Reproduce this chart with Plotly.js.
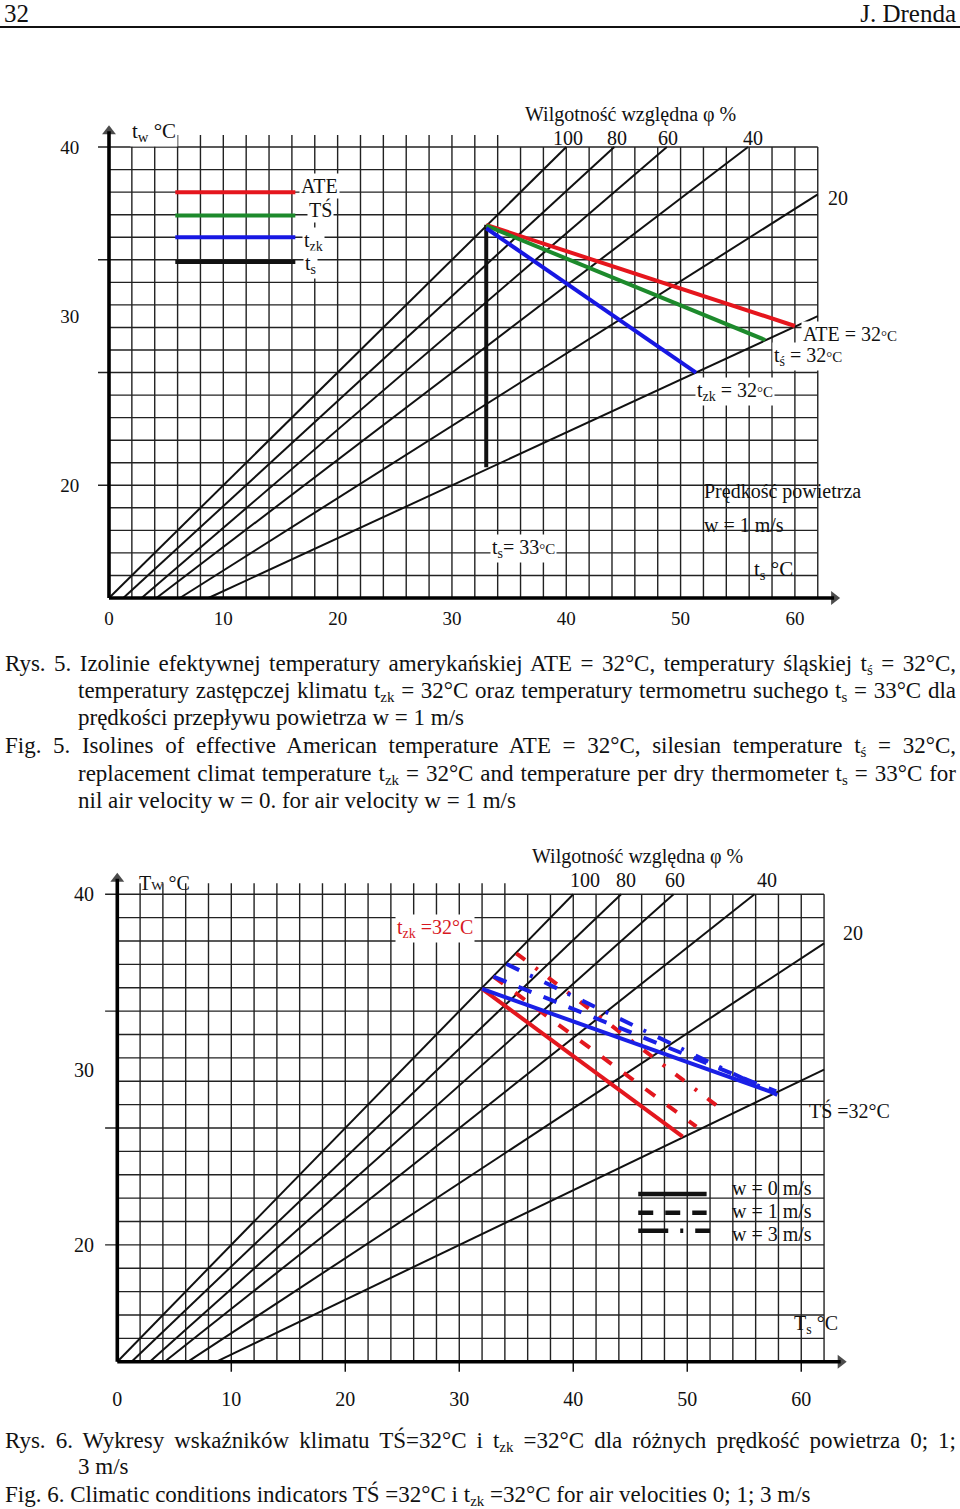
<!DOCTYPE html>
<html>
<head>
<meta charset="utf-8">
<script src="https://cdn.plot.ly/plotly-3.0.1.min.js"></script>
<style>
  html, body { margin: 0; padding: 0; background: #fff; }
  #page { position: relative; width: 960px; height: 1509px; overflow: hidden; background: #fff; }
  #chart { position: absolute; left: 0; top: 0; width: 960px; height: 1509px; }
  .hdr { position: absolute; top: 0; font-family: 'Liberation Serif', serif; font-size: 25px; line-height: 28px; color: #111; }
  .rule { position: absolute; left: 0; top: 26px; width: 960px; height: 2px; background: #111; }
  .cap { position: absolute; font-family: 'Liberation Serif', serif; font-size: 23px; line-height: 27px; color: #111; white-space: normal; }
  .j { text-align: justify; text-align-last: justify; }
  .cap sub { font-size: 15px; line-height: 0; vertical-align: -4px; }
</style>
</head>
<body>
<div id="page">
  <div id="chart"></div>
  <div class="hdr" style="left:4px">32</div>
  <div class="hdr" style="right:4px">J. Drenda</div>
  <div class="rule"></div>

  <div class="cap j" style="top:650px;left:5px;width:951px">Rys. 5. Izolinie efektywnej temperatury amerykańskiej ATE = 32°C, temperatury śląskiej t<sub>ś</sub> = 32°C,</div>
  <div class="cap j" style="top:677px;left:78px;width:878px">temperatury zastępczej klimatu t<sub>zk</sub> = 32°C oraz temperatury termometru suchego t<sub>s</sub> = 33°C dla</div>
  <div class="cap" style="top:704px;left:78px">prędkości przepływu powietrza w = 1 m/s</div>
  <div class="cap j" style="top:732px;left:5px;width:951px">Fig. 5. Isolines of effective American temperature ATE = 32°C, silesian temperature t<sub>ś</sub> = 32°C,</div>
  <div class="cap j" style="top:760px;left:78px;width:878px">replacement climat temperature t<sub>zk</sub> = 32°C and temperature per dry thermometer t<sub>s</sub> = 33°C for</div>
  <div class="cap" style="top:787px;left:78px">nil air velocity w = 0. for air velocity w = 1 m/s</div>

  <div class="cap j" style="top:1427px;left:5px;width:951px">Rys. 6. Wykresy wskaźników klimatu TŚ=32°C i t<sub>zk</sub> =32°C dla różnych prędkość powietrza 0; 1;</div>
  <div class="cap" style="top:1453px;left:78px">3 m/s</div>
  <div class="cap" style="top:1481px;left:5px">Fig. 6. Climatic conditions indicators TŚ =32°C i t<sub>zk</sub> =32°C for air velocities 0; 1; 3 m/s</div>
</div>

<script>
// ================= DATA =================
// axis ticks (dry-bulb ts on x, wet-bulb tw on y)
const tsTickVals = [0, 10, 20, 30, 40, 50, 60];
const tsTickText = ['0', '10', '20', '30', '40', '50', '60'];
const twTickVals = [20, 30, 40];
const twTickText = ['20', '30', '40'];

// frame of the chart grid
const twFrameMin = 13.333;
const twFrameMax = 40;
const tsFrameMax = 62;

// relative humidity isolines (same on both figures)
const rhLabels  = ['100', '80', '60', '40', '20'];
const rhStartTs = [0, 1.25, 2.85, 4.15, 6.2, 8.7];
const rhEndTs   = [40.0, 44.2, 48.8, 55.9, 62.0, 62.0];
const rhEndTw   = [40.0, 40.0, 40.0, 40.0, 37.2, 30.0];

// Rys. 5  (w = 1 m/s)
const ate5Ts = [33.0, 60.0], ate5Tw = [35.4, 29.42];   // ATE = 32 °C
const sl5Ts  = [33.0, 57.4], sl5Tw  = [35.35, 28.59];  // TŚ = 32 °C
const tzk5Ts = [33.0, 51.35], tzk5Tw = [35.2, 26.66];  // tzk = 32 °C
const dry5Ts = [33.0, 33.0], dry5Tw = [35.4, 21.06];   // ts = 33 °C
const legend5Names = ['ATE', 'TŚ', 't<sub>zk</sub>', 't<sub>s</sub>'];

// Rys. 6  (w = 0, 1, 3 m/s)
const tzkW0Ts = [32.0, 49.6],  tzkW0Tw = [34.6, 26.17];
const tzkW1Ts = [33.0, 50.8],  tzkW1Tw = [35.3, 26.74];
const tzkW3Ts = [35.0, 53.3],  tzkW3Tw = [36.63, 27.59];
const slW0Ts  = [32.0, 57.7],  slW0Tw  = [34.6, 28.64];
const slW1Ts  = [33.0, 57.8],  slW1Tw  = [35.3, 28.75];
const slW3Ts  = [34.15, 57.9], slW3Tw  = [36.02, 28.55];
const legend6Names = ['w = 0 m/s', 'w = 1 m/s', 'w = 3 m/s'];

// ================= STYLE =================
const FONT = 'Liberation Serif, Times New Roman, serif';
const INK = '#111';
const RED = '#e5161d', GREEN = '#1d8a2c', BLUE = '#1717e3';
const RED6 = '#e3171e', BLUE6 = '#1a20e6';
const DASH1 = { red: '12px,15px', blue: '14px,13px' };
const DASH3 = { red: '11px,13px,3px,13px', blue: '14px,12px,3px,13px' };

function gridTrace(xa, ya, tickLeft, extTop) {
  const x = [], y = [];
  const step = (twFrameMax - twFrameMin) / 20;
  for (let k = 1; k <= 20; k++) {
    const tw = twFrameMin + k * step;
    x.push(k % 5 === 0 ? tickLeft : 0, tsFrameMax, null);
    y.push(tw, tw, null);
  }
  for (let ts = 2; ts <= tsFrameMax; ts += 2) {
    x.push(ts, ts, null);
    y.push(twFrameMin, ts <= 34 ? extTop : twFrameMax, null);
  }
  return { type: 'scatter', mode: 'lines', x, y, xaxis: xa, yaxis: ya,
           line: { color: '#222', width: 1.4 }, hoverinfo: 'skip' };
}
function rhTrace(xa, ya) {
  const x = [], y = [];
  for (let i = 0; i < rhStartTs.length; i++) {
    x.push(rhStartTs[i], rhEndTs[i], null);
    y.push(twFrameMin, rhEndTw[i], null);
  }
  return { type: 'scatter', mode: 'lines', x, y, xaxis: xa, yaxis: ya,
           line: { color: INK, width: 2 }, hoverinfo: 'skip' };
}
function seg(xa, ya, xs, ys, color, width, dash) {
  return { type: 'scatter', mode: 'lines', x: xs, y: ys, xaxis: xa, yaxis: ya,
           line: { color, width, dash: dash || 'solid' }, hoverinfo: 'skip' };
}
// thick axis line with an arrow-head marker at its end
function axisArrow(xa, ya, xs, ys, symbol) {
  return { type: 'scatter', mode: 'lines+markers', x: xs, y: ys, xaxis: xa, yaxis: ya,
           line: { color: '#000', width: 3.6 },
           marker: { symbol: ['circle', symbol], size: [0, 12], color: '#000', line: { width: 0 } },
           cliponaxis: false, hoverinfo: 'skip' };
}

const traces = [];
// ---------- Figure 5 ----------
traces.push(gridTrace('x', 'y', -0.96, 40.71));
traces.push(rhTrace('x', 'y'));
traces.push(axisArrow('x', 'y', [0, 0], [twFrameMin, 40.94], 'triangle-up'));
traces.push(axisArrow('x', 'y', [0, 63.43], [twFrameMin, twFrameMin], 'triangle-right'));
traces.push(seg('x', 'y', dry5Ts, dry5Tw, INK, 4));
traces.push(seg('x', 'y', ate5Ts, ate5Tw, RED, 4));
traces.push(seg('x', 'y', sl5Ts, sl5Tw, GREEN, 4));
traces.push(seg('x', 'y', tzk5Ts, tzk5Tw, BLUE, 4));
const leg5Colors = [RED, GREEN, BLUE, INK];
const leg5Y = [37.33, 35.96, 34.67, 33.2];
const leg5X = [5.8, 16.3];
leg5Colors.forEach((c, i) => traces.push(seg('x', 'y', leg5X, [leg5Y[i], leg5Y[i]], c, 4)));

// ---------- Figure 6 ----------
traces.push(gridTrace('x2', 'y2', -1.07, 40.63));
traces.push(rhTrace('x2', 'y2'));
(function () {
  const x = [], y = [];
  tsTickVals.slice(1).forEach(v => { x.push(v, v, null); y.push(twFrameMin, 12.76, null); });
  traces.push({ type: 'scatter', mode: 'lines', x, y, xaxis: 'x2', yaxis: 'y2',
                line: { color: INK, width: 1.5 }, hoverinfo: 'skip' });
})();
traces.push(axisArrow('x2', 'y2', [0, 0], [twFrameMin, 40.88], 'triangle-up'));
traces.push(axisArrow('x2', 'y2', [0, 63.46], [twFrameMin, twFrameMin], 'triangle-right'));
traces.push(seg('x2', 'y2', tzkW0Ts, tzkW0Tw, RED6, 4));
traces.push(seg('x2', 'y2', tzkW1Ts, tzkW1Tw, RED6, 4, DASH1.red));
traces.push(seg('x2', 'y2', tzkW3Ts, tzkW3Tw, RED6, 4, DASH3.red));
traces.push(seg('x2', 'y2', slW0Ts, slW0Tw, BLUE6, 4));
traces.push(seg('x2', 'y2', slW1Ts, slW1Tw, BLUE6, 4, DASH1.blue));
traces.push(seg('x2', 'y2', slW3Ts, slW3Tw, BLUE6, 4, DASH3.blue));
const leg6Y = [22.9, 21.83, 20.81];
const leg6X = [[45.7, 51.7], [45.7, 51.7], [45.7, 52.0]];
const leg6Dash = ['solid', '15px,12px', '30px,12px,3px,12px'];
leg6Y.forEach((yy, i) => traces.push(seg('x2', 'y2', leg6X[i], [yy, yy], INK, 4.5, leg6Dash[i])));

// ================= ANNOTATIONS =================
function T(xr, yr, x, y, text, o) {
  o = o || {};
  return Object.assign({ xref: xr, yref: yr, x, y, text, showarrow: false,
    xanchor: 'left', yanchor: 'middle', borderpad: 1,
    font: { family: FONT, size: 20, color: INK } }, o);
}
const W = '#ffffff';
const small = s => '<span style="font-size:15px">' + s + '</span>';
const ann = [];
// --- Fig 5 ---
ann.push(T('x', 'y', 1.84, 40.89, 't<sub>w</sub> °C', { bgcolor: W, font: { family: FONT, size: 21, color: INK } }));
ann.push(T('x', 'y', 45.6, 41.9, 'Wilgotność względna φ %', { xanchor: 'center' }));
[40.16, 44.44, 48.9, 56.34].forEach((xx, i) =>
  ann.push(T('x', 'y', xx, 40.55, rhLabels[i], { xanchor: 'center', borderpad: 0 })));
ann.push(T('x', 'y', 63.78, 36.99, rhLabels[4], { xanchor: 'center' }));
const leg5TX = [16.6, 17.3, 16.85, 17.0];
const leg5TY = [37.7, 36.28, 34.44, 33.03];
legend5Names.forEach((n, i) => ann.push(T('x', 'y', leg5TX[i], leg5TY[i], n, { bgcolor: W })));
ann.push(T('x', 'y', 60.55, 28.95, 'ATE = 32' + small('°C'), { bgcolor: W }));
ann.push(T('x', 'y', 58.0, 27.64, 't<sub>ś</sub> = 32' + small('°C'), { bgcolor: W }));
ann.push(T('x', 'y', 51.3, 25.57, 't<sub>zk</sub> = 32' + small('°C'), { bgcolor: W }));
ann.push(T('x', 'y', 51.88, 19.66, 'Prędkość powietrza'));
ann.push(T('x', 'y', 51.88, 17.65, 'w = 1 m/s'));
ann.push(T('x', 'y', 33.3, 16.29, 't<sub>s</sub>= 33' + small('°C'), { bgcolor: W }));
ann.push(T('x', 'y', 56.26, 14.99, 't<sub>s</sub> °C', { font: { family: FONT, size: 21, color: INK } }));

// --- Fig 6 ---
ann.push(T('x2', 'y2', 1.73, 40.64, 'T<span style="font-size:13px">W</span> °C'));
ann.push(T('x2', 'y2', 24.36, 38.07, 't<sub>zk</sub> =32°C', { bgcolor: W, font: { family: FONT, size: 20, color: '#d8181f' } }));
ann.push(T('x2', 'y2', 45.6, 42.18, 'Wilgotność względna φ %', { xanchor: 'center' }));
[41.03, 44.62, 48.92, 56.99].forEach((xx, i) =>
  ann.push(T('x2', 'y2', xx, 40.81, rhLabels[i], { xanchor: 'center', borderpad: 0 })));
ann.push(T('x2', 'y2', 64.53, 37.79, rhLabels[4], { xanchor: 'center' }));
ann.push(T('x2', 'y2', 60.5, 27.69, 'TŚ =32°C'));
const leg6TY = [23.24, 21.93, 20.62];
legend6Names.forEach((n, i) => ann.push(T('x2', 'y2', 53.74, leg6TY[i], n)));
ann.push(T('x2', 'y2', 59.18, 15.43, 'T<sub>s</sub> °C'));

// ================= LAYOUT =================
const H = 1509, Wd = 960;
const axBase = { showgrid: false, zeroline: false, showline: false, fixedrange: true,
                 tickcolor: 'rgba(0,0,0,0)', ticks: 'outside' };
const layout = {
  width: Wd, height: H, margin: { l: 0, r: 0, t: 0, b: 0 }, showlegend: false,
  paper_bgcolor: '#fff', plot_bgcolor: 'rgba(0,0,0,0)',
  font: { family: FONT, color: INK, size: 19 },
  xaxis: Object.assign({}, axBase, {
    domain: [94 / Wd, 870 / Wd], range: [-1.312, 66.57], anchor: 'y',
    tickmode: 'array', tickvals: tsTickVals, ticktext: tsTickText, ticklen: 1,
    tickfont: { family: FONT, size: 19, color: INK } }),
  yaxis: Object.assign({}, axBase, {
    domain: [1 - 600 / H, 1 - 105 / H], range: [13.215, 42.488], anchor: 'x',
    tickmode: 'array', tickvals: twTickVals, ticktext: twTickText, ticklen: 10,
    tickfont: { family: FONT, size: 19, color: INK } }),
  xaxis2: Object.assign({}, axBase, {
    domain: [102 / Wd, 875 / Wd], range: [-1.342, 66.47], anchor: 'y2',
    tickmode: 'array', tickvals: tsTickVals, ticktext: tsTickText, ticklen: 7,
    tickfont: { family: FONT, size: 20, color: INK } }),
  yaxis2: Object.assign({}, axBase, {
    domain: [1 - 1374 / H, 1 - 840 / H], range: [12.632, 43.094], anchor: 'x2',
    tickmode: 'array', tickvals: twTickVals, ticktext: twTickText, ticklen: 3,
    tickfont: { family: FONT, size: 20, color: INK } }),
  annotations: ann
};

Plotly.newPlot('chart', traces, layout, { staticPlot: true, displayModeBar: false });
</script>
</body>
</html>
